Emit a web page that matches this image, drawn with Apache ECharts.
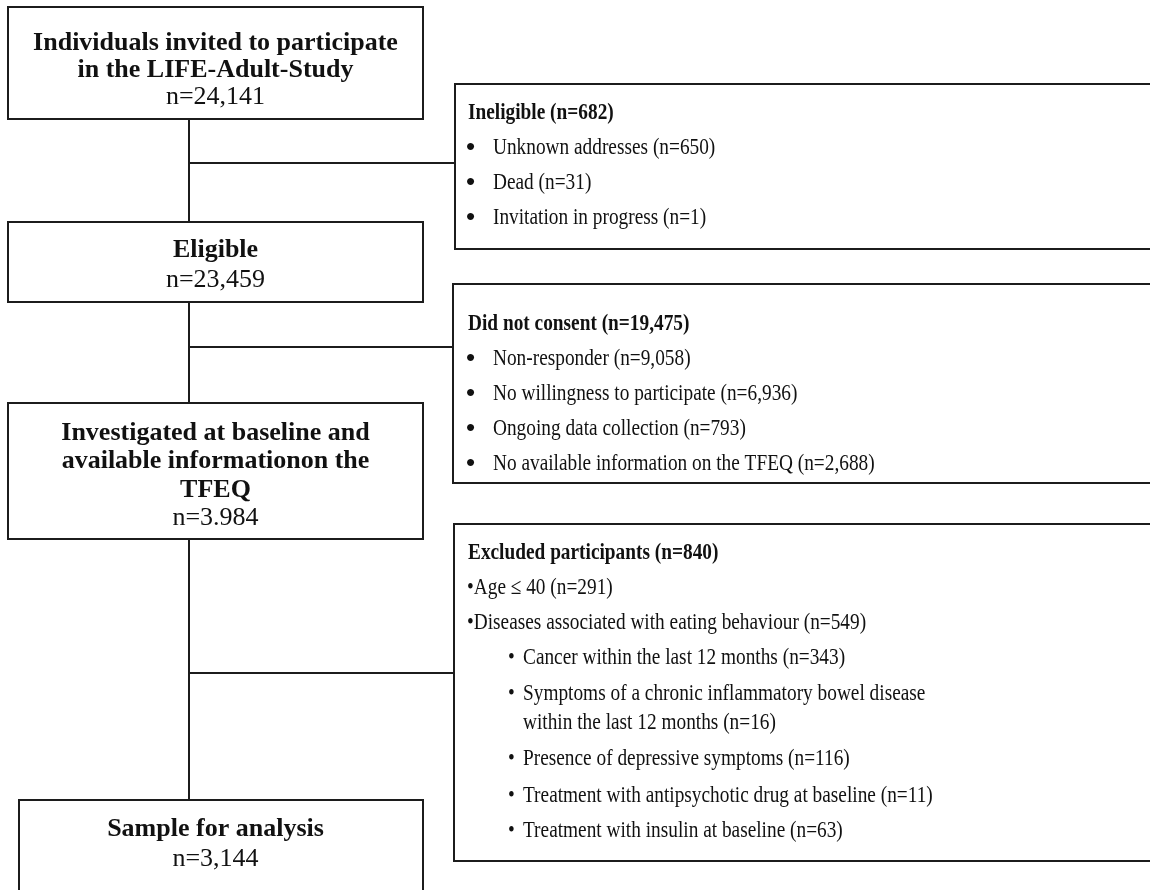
<!DOCTYPE html>
<html>
<head>
<meta charset="utf-8">
<script src="https://cdn.jsdelivr.net/npm/echarts@6/dist/echarts.min.js"></script>
<style>
html,body{margin:0;padding:0;background:#fff;}
#chart{width:1150px;height:890px;}
</style>
</head>
<body>
<div id="chart"></div>
<script>
// ---------- DATA ----------
const flowTitles = [
  ["Individuals invited to participate", "in the LIFE-Adult-Study"],
  ["Eligible"],
  ["Investigated at baseline and", "available informationon the", "TFEQ"],
  ["Sample for analysis"]
];
const flowCounts = ["n=24,141", "n=23,459", "n=3.984", "n=3,144"];

const exclHeads = ["Ineligible (n=682)", "Did not consent (n=19,475)", "Excluded participants (n=840)"];
const ineligibleItems = ["Unknown addresses (n=650)", "Dead (n=31)", "Invitation in progress (n=1)"];
const nonConsentItems = [
  "Non-responder (n=9,058)",
  "No willingness to participate (n=6,936)",
  "Ongoing data collection (n=793)",
  "No available information on the TFEQ (n=2,688)"
];
const excludedTopItems = ["Age \u2264 40 (n=291)", "Diseases associated with eating behaviour (n=549)"];
const diseaseItems = [
  ["Cancer within the last 12 months (n=343)"],
  ["Symptoms of a chronic inflammatory bowel disease", "within the last 12 months (n=16)"],
  ["Presence of depressive symptoms (n=116)"],
  ["Treatment with antipsychotic drug at baseline (n=11)"],
  ["Treatment with insulin at baseline (n=63)"]
];

// ---------- LAYOUT ----------
const FONT = '"Liberation Serif", "Times New Roman", serif';
const INK = '#111';
const LINE = '#1c1c1c';
const leftBoxes = [
  {x: 8,  y: 7,   w: 415, h: 112, ty: 43,  lh: 27},
  {x: 8,  y: 222, w: 415, h: 80,  ty: 250, lh: 30},
  {x: 8,  y: 403, w: 415, h: 136, ty: 433, lh: 28.5},
  {x: 19, y: 800, w: 404, h: 110, ty: 829, lh: 30}
];
const centerX = 215.5;
const spineX = 189;
const rightBoxes = [
  {x: 455, y: 84,  h: 165, link: 163, hy: 112},
  {x: 453, y: 284, h: 199, link: 347, hy: 323},
  {x: 454, y: 524, h: 337, link: 673, hy: 552}
];
const LEFT_SIZE = 26;
const R_SIZE = 23, R_SCALE = 0.84;

const els = [];
function txt(x, y, s, size, bold, align, scale) {
  els.push({
    type: 'text', x: x, y: y, scaleX: scale || 1, z: 10,
    style: {
      text: s, font: (bold ? 'bold ' : '') + size + 'px ' + FONT, fill: INK,
      textAlign: align || 'left', align: align || 'left',
      textVerticalAlign: 'middle', verticalAlign: 'middle'
    }
  });
}
function line(x1, y1, x2, y2) {
  els.push({type: 'line', z: 1, shape: {x1, y1, x2, y2}, style: {stroke: LINE, lineWidth: 2}});
}
function rect(x, y, w, h) {
  els.push({type: 'rect', z: 2, shape: {x, y, width: w, height: h}, style: {fill: '#fff', stroke: LINE, lineWidth: 2}});
}

// spine connectors
line(spineX, leftBoxes[0].y + leftBoxes[0].h, spineX, leftBoxes[1].y);
line(spineX, leftBoxes[1].y + leftBoxes[1].h, spineX, leftBoxes[2].y);
line(spineX, leftBoxes[2].y + leftBoxes[2].h, spineX, leftBoxes[3].y);
rightBoxes.forEach(b => line(spineX, b.link, b.x, b.link));

// left boxes
leftBoxes.forEach((b, i) => {
  rect(b.x, b.y, b.w, b.h);
  const lines = flowTitles[i];
  lines.forEach((t, k) => txt(centerX, b.ty + k * b.lh, t, LEFT_SIZE, true, 'center'));
  txt(centerX, b.ty + lines.length * b.lh, flowCounts[i], LEFT_SIZE, false, 'center');
});

// right boxes
rightBoxes.forEach((b, i) => {
  rect(b.x, b.y, 1160 - b.x, b.h);
  txt(468, b.hy + 1, exclHeads[i], R_SIZE, true, 'left', R_SCALE);
});
// bulleted lists for first two
[ineligibleItems, nonConsentItems].forEach((items, i) => {
  const b = rightBoxes[i];
  items.forEach((t, k) => {
    const y = b.hy + 1 + 35 * (k + 1);
    txt(466, y, '\u2022', R_SIZE + 3, true, 'left', 1);
    txt(493, y, t, R_SIZE, false, 'left', R_SCALE);
  });
});
// excluded box
const exY = [588, 623];
excludedTopItems.forEach((t, k) => txt(467, exY[k], '\u2022' + t, R_SIZE, false, 'left', R_SCALE));
const subY = [[658], [694, 723], [759], [796], [831]];
diseaseItems.forEach((lines, k) => {
  txt(508, subY[k][0], '\u2022', R_SIZE, false, 'left', R_SCALE);
  lines.forEach((t, j) => txt(523, subY[k][j], t, R_SIZE, false, 'left', R_SCALE));
});

const chart = echarts.init(document.getElementById('chart'), null, {renderer: 'canvas'});
chart.setOption({
  animation: false,
  backgroundColor: '#fff',
  graphic: {elements: els}
});
</script>
</body>
</html>
